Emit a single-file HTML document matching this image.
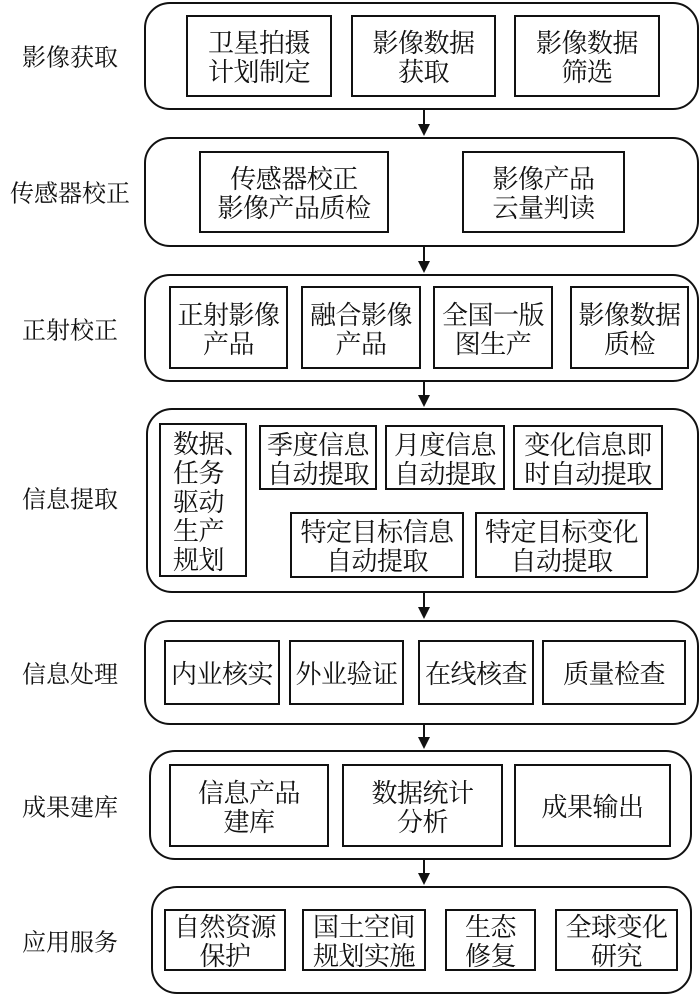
<!DOCTYPE html>
<html><head><meta charset="utf-8"><style>
body{margin:0;width:700px;height:996px;background:#fff;position:relative;overflow:hidden;font-family:"Noto Serif CJK SC","Liberation Serif","Noto Sans CJK SC",serif;color:#111}
.o{position:absolute;border:2px solid #111;border-radius:26px;box-sizing:border-box}
.b{position:absolute;border:2px solid #111;box-sizing:border-box;display:flex;align-items:center;justify-content:center;text-align:center;font-size:26px;line-height:29px;white-space:nowrap;letter-spacing:-0.5px}
.l{position:absolute;left:0;width:140px;text-align:center;font-size:24px;transform:translateY(-50%)}
.a{position:absolute;left:423px;width:2px;background:#111}
.h{position:absolute;left:418px;width:0;height:0;border-left:6px solid transparent;border-right:6px solid transparent;border-top:12px solid #111}
</style></head><body>
<div class="l" style="top:55px">影像获取</div>
<div class="l" style="top:191px">传感器校正</div>
<div class="l" style="top:328px">正射校正</div>
<div class="l" style="top:497px">信息提取</div>
<div class="l" style="top:672px">信息处理</div>
<div class="l" style="top:805px">成果建库</div>
<div class="l" style="top:940px">应用服务</div>

<div class="o" style="left:144px;top:2px;width:555px;height:108px"></div>
<div class="b" style="left:186px;top:15px;width:146px;height:82px">卫星拍摄<br>计划制定</div>
<div class="b" style="left:351px;top:15px;width:145px;height:82px">影像数据<br>获取</div>
<div class="b" style="left:514px;top:15px;width:146px;height:82px">影像数据<br>筛选</div>

<div class="o" style="left:144px;top:137px;width:555px;height:110px"></div>
<div class="b" style="left:199px;top:151px;width:190px;height:82px">传感器校正<br>影像产品质检</div>
<div class="b" style="left:462px;top:151px;width:163px;height:82px">影像产品<br>云量判读</div>

<div class="o" style="left:144px;top:274px;width:555px;height:108px"></div>
<div class="b" style="left:169px;top:286px;width:119px;height:83px">正射影像<br>产品</div>
<div class="b" style="left:301px;top:286px;width:120px;height:83px">融合影像<br>产品</div>
<div class="b" style="left:433px;top:286px;width:120px;height:83px">全国一版<br>图生产</div>
<div class="b" style="left:570px;top:286px;width:119px;height:83px">影像数据<br>质检</div>

<div class="o" style="left:146px;top:408px;width:553px;height:185px"></div>
<div class="b" style="left:159px;top:423px;width:88px;height:154px;justify-content:flex-start;padding-left:12px;text-align:left;line-height:29px">数据、<br>任务<br>驱动<br>生产<br>规划</div>
<div class="b" style="left:259px;top:425px;width:118px;height:65px">季度信息<br>自动提取</div>
<div class="b" style="left:385px;top:425px;width:120px;height:65px">月度信息<br>自动提取</div>
<div class="b" style="left:513px;top:425px;width:150px;height:65px">变化信息即<br>时自动提取</div>
<div class="b" style="left:290px;top:512px;width:174px;height:66px">特定目标信息<br>自动提取</div>
<div class="b" style="left:475px;top:512px;width:173px;height:66px">特定目标变化<br>自动提取</div>

<div class="o" style="left:144px;top:620px;width:555px;height:105px"></div>
<div class="b" style="left:164px;top:640px;width:116px;height:65px">内业核实</div>
<div class="b" style="left:289px;top:640px;width:115px;height:65px">外业验证</div>
<div class="b" style="left:418px;top:640px;width:116px;height:65px">在线核查</div>
<div class="b" style="left:542px;top:640px;width:144px;height:65px">质量检查</div>

<div class="o" style="left:149px;top:750px;width:543px;height:110px"></div>
<div class="b" style="left:169px;top:764px;width:160px;height:83px">信息产品<br>建库</div>
<div class="b" style="left:342px;top:764px;width:161px;height:83px">数据统计<br>分析</div>
<div class="b" style="left:514px;top:764px;width:157px;height:83px">成果输出</div>

<div class="o" style="left:151px;top:886px;width:541px;height:108px"></div>
<div class="b" style="left:164px;top:909px;width:122px;height:62px">自然资源<br>保护</div>
<div class="b" style="left:302px;top:909px;width:124px;height:62px">国土空间<br>规划实施</div>
<div class="b" style="left:445px;top:909px;width:91px;height:62px">生态<br>修复</div>
<div class="b" style="left:555px;top:909px;width:123px;height:62px">全球变化<br>研究</div>

<div class="a" style="top:110px;height:16px"></div><div class="h" style="top:124px"></div>
<div class="a" style="top:247px;height:16px"></div><div class="h" style="top:261px"></div>
<div class="a" style="top:382px;height:15px"></div><div class="h" style="top:395px"></div>
<div class="a" style="top:593px;height:16px"></div><div class="h" style="top:607px"></div>
<div class="a" style="top:725px;height:14px"></div><div class="h" style="top:737px"></div>
<div class="a" style="top:860px;height:15px"></div><div class="h" style="top:873px"></div>
</body></html>
